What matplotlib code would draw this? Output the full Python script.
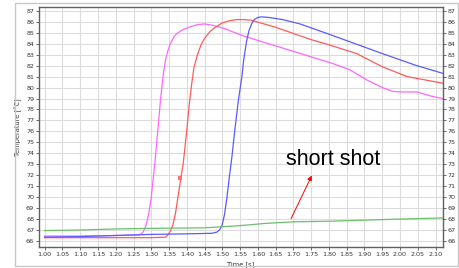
import matplotlib
matplotlib.use("Agg")
import matplotlib.pyplot as plt
from matplotlib.patches import Rectangle

# Data
t_mag = [1.00, 1.10, 1.20, 1.265, 1.272, 1.278, 1.285, 1.293, 1.30, 1.31, 1.319, 1.326, 1.333, 1.34, 1.347,
         1.355, 1.365, 1.375, 1.39, 1.41, 1.43, 1.45, 1.47, 1.50, 1.56, 1.65, 1.72, 1.81, 1.86, 1.906,
         1.95, 1.98, 2.00, 2.047, 2.09, 2.12]
v_mag = [66.45, 66.45, 66.5, 66.55, 66.65, 66.85, 67.4, 68.5, 70.0, 73.1, 76.3, 78.9, 81.0, 82.5, 83.4,
         84.1, 84.7, 85.0, 85.3, 85.55, 85.75, 85.8, 85.7, 85.45, 84.7, 83.8, 83.1, 82.2, 81.6, 80.7,
         80.0, 79.65, 79.6, 79.6, 79.2, 79.0]

t_red = [1.00, 1.10, 1.20, 1.30, 1.34, 1.348, 1.355, 1.361, 1.368, 1.375, 1.39, 1.40, 1.407, 1.414, 1.42,
         1.43, 1.44, 1.45, 1.465, 1.48, 1.50, 1.52, 1.54, 1.56, 1.58, 1.65, 1.747, 1.80, 1.878, 1.95,
         2.02, 2.12]
v_red = [66.3, 66.3, 66.3, 66.3, 66.35, 66.6, 67.0, 67.5, 68.5, 70.0, 73.1, 76.1, 78.5, 80.4, 81.8,
         83.0, 83.9, 84.5, 85.1, 85.5, 85.9, 86.1, 86.2, 86.2, 86.15, 85.5, 84.4, 83.9, 83.1, 81.9,
         81.0, 80.4]

t_blue = [1.00, 1.10, 1.20, 1.30, 1.40, 1.47, 1.484, 1.492, 1.499, 1.506, 1.513, 1.52, 1.527, 1.535,
          1.545, 1.555, 1.56, 1.568, 1.575, 1.583, 1.59, 1.60, 1.61, 1.63, 1.67, 1.719, 1.78, 1.84,
          1.95, 2.047, 2.12]
v_blue = [66.35, 66.4, 66.5, 66.6, 66.65, 66.7, 66.8, 67.0, 67.4, 68.4, 70.0, 71.9, 73.7, 76.1,
          78.8, 81.0, 82.5, 84.2, 85.2, 85.85, 86.2, 86.4, 86.45, 86.4, 86.2, 85.8, 85.1, 84.4,
          83.1, 82.0, 81.3]

t_green = [1.00, 1.10, 1.20, 1.30, 1.45, 1.55, 1.62, 1.70, 1.80, 1.90, 2.00, 2.12]
v_green = [66.95, 67.0, 67.1, 67.15, 67.2, 67.4, 67.6, 67.75, 67.8, 67.9, 68.0, 68.1]

marker_t = [1.38]
marker_v = [71.75]

arrow_tail = (1.69, 67.8)
arrow_head = (1.755, 72.2)
annot_text = "short shot"
annot_pos = (1.68, 73.4)

xticks = [round(1.0 + 0.05 * i, 2) for i in range(23)]
yticks = list(range(66, 88))

fig = plt.figure(figsize=(4.59, 2.68), dpi=100)
fig.patches.append(Rectangle((15 / 459, 2 / 268), (458 - 15) / 459, (265 - 2) / 268,
                             transform=fig.transFigure, fill=False, edgecolor="#c8c8c8", lw=1.0))
ax = fig.add_axes([39 / 459, 1 - 247 / 268, (443 - 39) / 459, (247 - 7) / 268])

ax.plot(t_mag, v_mag, color="#ff66ff", lw=0.9)
ax.plot(t_red, v_red, color="#ff5a5a", lw=0.9)
ax.plot(t_blue, v_blue, color="#5a5aff", lw=0.9)
ax.plot(t_green, v_green, color="#6cbf6c", lw=0.9)
ax.plot(marker_t, marker_v, 's', color="#ff7070", ms=2.2, mew=0)

ax.annotate("", xy=arrow_head, xytext=arrow_tail,
            arrowprops=dict(arrowstyle="-|>", color="red", lw=0.7, mutation_scale=7))
ax.text(annot_pos[0], annot_pos[1], annot_text, fontsize=15.5, family="Liberation Sans",
        va="center", ha="left", color="black")

ax.set_xlim(0.984, 2.121)
ax.set_ylim(65.45, 87.35)
ax.set_xticks(xticks)
ax.set_xticklabels([f"{v:.2f}" for v in xticks])
ax.set_yticks(yticks)
ax.grid(True, color="#dcdcdc", lw=0.8)
ax.set_axisbelow(True)
for s in ax.spines.values():
    s.set_color("#606060")
    s.set_linewidth(1.0)
ax.tick_params(labelsize=4.6, length=2, width=0.6, color="#505050", labelcolor="#333333", pad=1.5)
ax.set_xlabel("Time [s]", fontsize=4.8, labelpad=3, color="#333333")
ax.set_ylabel("Temperature [°C]", fontsize=4.8, labelpad=3, color="#333333")

ax2 = ax.twinx()
ax2.set_ylim(ax.get_ylim())
ax2.set_yticks(yticks)
ax2.tick_params(labelsize=4.6, length=2, width=0.6, color="#505050", labelcolor="#333333", pad=1.5)
for s in ax2.spines.values():
    s.set_visible(False)

fig.savefig("out.png", dpi=100)
